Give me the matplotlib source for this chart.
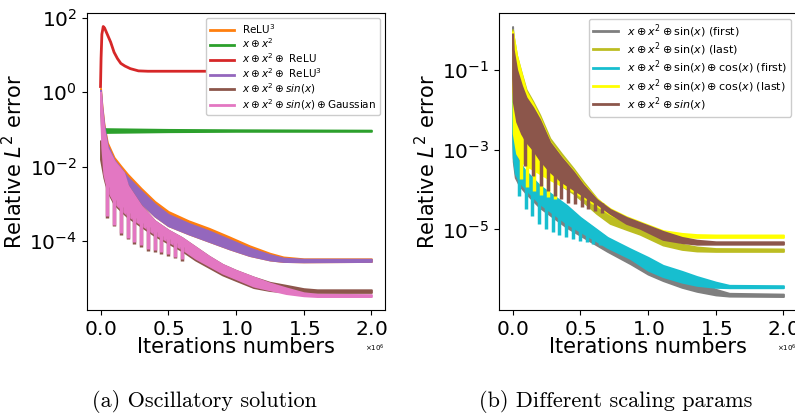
import numpy as np
import matplotlib
matplotlib.use('Agg')
import matplotlib.pyplot as plt

# x positions in units of 1e6 iterations, y values are log10(relative L2 error)

# ---------------- (a) Oscillatory solution ----------------
red_x = [0, 0.004, 0.01, 0.02, 0.03, 0.05, 0.075, 0.1, 0.125, 0.15, 0.18, 0.22, 0.28, 0.35, 0.6, 1.0, 1.5, 2.0]
red_y = [0.15, 0.9, 1.55, 1.76, 1.72, 1.55, 1.34, 1.07, 0.9, 0.77, 0.7, 0.63, 0.57, 0.56, 0.56, 0.56, 0.56, 0.56]

green_x = [0, 0.008, 0.02, 0.04, 0.5, 1.0, 2.0]
green_hi = [0.0, -0.8, -0.97, -0.98, -1.0, -1.01, -1.02]
green_lo = [-0.3, -1.05, -1.08, -1.08, -1.06, -1.05, -1.05]

a_x = [0, 0.01, 0.025, 0.05, 0.1, 0.15, 0.2, 0.3, 0.4, 0.5, 0.65, 0.8, 0.95, 1.1, 1.25, 1.35, 1.5, 2.0]
orange_hi = [0.1, -0.35, -0.85, -1.35, -1.75, -1.98, -2.2, -2.58, -2.93, -3.2, -3.45, -3.65, -3.88, -4.12, -4.32, -4.42, -4.47, -4.47]
orange_lo = [-0.3, -0.8, -1.3, -1.75, -2.15, -2.38, -2.6, -2.98, -3.32, -3.58, -3.8, -4.0, -4.2, -4.38, -4.5, -4.54, -4.55, -4.54]
purple_hi = [0.05, -0.4, -0.9, -1.42, -1.82, -2.05, -2.28, -2.65, -3.0, -3.28, -3.52, -3.72, -3.95, -4.18, -4.36, -4.45, -4.48, -4.48]
purple_lo = [-0.3, -0.8, -1.3, -1.75, -2.15, -2.38, -2.6, -2.98, -3.32, -3.58, -3.8, -4.0, -4.2, -4.38, -4.5, -4.54, -4.55, -4.54]

p_x = [0, 0.01, 0.025, 0.05, 0.1, 0.17, 0.2, 0.3, 0.4, 0.5, 0.6, 0.7, 0.8, 0.9, 1.0, 1.13, 1.25, 1.37, 1.5, 1.6, 2.0]
brown_a_hi = [-1.3, -1.5, -1.6, -1.7, -1.95, -2.25, -2.5, -3.05, -3.45, -3.7, -3.9, -4.15, -4.4, -4.62, -4.78, -4.96, -5.1, -5.18, -5.27, -5.3, -5.3]
brown_a_lo = [-1.8, -2.0, -2.3, -2.65, -3.0, -3.25, -3.35, -3.6, -3.85, -4.05, -4.25, -4.5, -4.7, -4.9, -5.05, -5.24, -5.32, -5.36, -5.37, -5.37, -5.37]
pink_hi = [0.0, -0.5, -1.0, -1.5, -1.85, -2.16, -2.5, -3.05, -3.45, -3.7, -3.9, -4.15, -4.4, -4.62, -4.78, -4.96, -5.12, -5.25, -5.38, -5.42, -5.43]
pink_lo = [-0.5, -1.5, -2.2, -2.6, -2.95, -3.2, -3.3, -3.55, -3.8, -4.0, -4.2, -4.45, -4.65, -4.85, -5.0, -5.2, -5.3, -5.4, -5.46, -5.48, -5.48]

pink_spike_x = [0.049, 0.098, 0.152, 0.2, 0.25, 0.3, 0.35, 0.4, 0.45, 0.5, 0.55, 0.6]
pink_spike_y = [-3.32, -3.55, -3.77, -3.9, -4.03, -4.11, -4.2, -4.24, -4.3, -4.35, -4.41, -4.48]

# ---------------- (b) Different scaling params ----------------
g_x = [0, 0.005, 0.02, 0.05, 0.1, 0.2, 0.3, 0.4, 0.5, 0.6, 0.7, 0.87, 1.0, 1.11, 1.25, 1.36, 1.5, 1.6, 2.0]
grey_hi = [0.08, -1.5, -2.9, -3.3, -3.6, -3.95, -4.2, -4.45, -4.72, -4.97, -5.22, -5.55, -5.8, -5.98, -6.15, -6.3, -6.5, -6.6, -6.62]
grey_lo = [-2.6, -3.3, -3.7, -3.9, -4.1, -4.45, -4.7, -4.95, -5.15, -5.35, -5.55, -5.86, -6.12, -6.28, -6.45, -6.55, -6.64, -6.67, -6.68]
cyan_hi = [-1.6, -2.5, -3.1, -3.35, -3.55, -3.9, -4.15, -4.4, -4.7, -4.95, -5.2, -5.49, -5.7, -5.9, -6.05, -6.18, -6.32, -6.4, -6.41]
cyan_lo = [-2.5, -3.2, -3.6, -3.8, -4.0, -4.35, -4.6, -4.85, -5.05, -5.25, -5.45, -5.73, -6.02, -6.18, -6.32, -6.4, -6.45, -6.46, -6.46]

cyan_spike_x = [0.047, 0.098, 0.147, 0.196, 0.246, 0.295, 0.344, 0.394, 0.443, 0.497, 0.546, 0.595, 0.645, 0.694]
cyan_spike_y = [-4.16, -4.49, -4.67, -4.86, -4.99, -5.07, -5.15, -5.19, -5.24, -5.28, -5.32, -5.36, -5.40, -5.44]

b_x = [0, 0.005, 0.03, 0.066, 0.1, 0.15, 0.2, 0.275, 0.36, 0.45, 0.52, 0.62, 0.72, 0.84, 0.94, 1.11, 1.25, 1.36, 1.5, 2.0]
olive_hi = [0.0, -0.15, -0.65, -1.1, -1.5, -1.8, -2.13, -2.72, -3.1, -3.48, -3.8, -4.22, -4.55, -4.85, -5.0, -5.26, -5.37, -5.44, -5.48, -5.49]
olive_lo = [-1.0, -1.8, -2.4, -2.7, -2.9, -3.1, -3.35, -3.65, -3.9, -4.1, -4.3, -4.6, -4.85, -5.0, -5.12, -5.39, -5.5, -5.54, -5.55, -5.55]
yellow_hi = [-0.05, -0.15, -0.65, -1.12, -1.55, -1.85, -2.2, -2.8, -3.18, -3.54, -3.86, -4.23, -4.48, -4.68, -4.81, -5.03, -5.1, -5.13, -5.14, -5.14]
yellow_lo = [-1.3, -2.6, -3.1, -3.3, -3.4, -3.5, -3.6, -3.75, -3.9, -4.05, -4.2, -4.4, -4.62, -4.82, -4.95, -5.1, -5.18, -5.2, -5.2, -5.2]
brown_b_hi = [-0.1, -0.5, -1.0, -1.4, -1.7, -1.95, -2.25, -2.82, -3.2, -3.56, -3.88, -4.25, -4.5, -4.7, -4.83, -5.05, -5.2, -5.27, -5.31, -5.31]
brown_b_lo = [-1.2, -1.8, -2.3, -2.6, -2.8, -3.0, -3.25, -3.55, -3.8, -4.0, -4.15, -4.35, -4.6, -4.85, -4.97, -5.25, -5.33, -5.37, -5.37, -5.37]

yellow_spike_x = [0.06, 0.11, 0.16, 0.21, 0.26, 0.31]
yellow_spike_y = [-3.75, -3.95, -4.05, -4.15, -4.2, -4.25]
brown_spike_x = [0.091, 0.15, 0.207, 0.263, 0.31, 0.36, 0.41, 0.46, 0.51, 0.56, 0.61, 0.66]
brown_spike_y = [-3.42, -3.66, -3.91, -4.04, -4.16, -4.24, -4.33, -4.37, -4.45, -4.49, -4.55, -4.6]

labels_a = ['ReLU$^3$', r'$x \oplus x^2$', r'$x \oplus x^2 \oplus$ ReLU', r'$x \oplus x^2 \oplus$ ReLU$^3$',
            r'$x \oplus x^2 \oplus sin(x)$', r'$x \oplus x^2 \oplus sin(x) \oplus$Gaussian']
labels_b = [r'$x \oplus x^2 \oplus$sin$(x)$ (first)', r'$x \oplus x^2 \oplus$sin$(x)$ (last)',
            r'$x \oplus x^2 \oplus$sin$(x) \oplus$cos$(x)$ (first)', r'$x \oplus x^2 \oplus$sin$(x) \oplus$cos$(x)$ (last)',
            r'$x \oplus x^2 \oplus sin(x)$']


def band(ax, x, lo, hi, color):
    x = np.array(x) * 1e6
    ax.fill_between(x, 10 ** np.array(lo), 10 ** np.array(hi), color=color, lw=1.4, edgecolor=color)


def spikes(ax, sx, sy, x, lo, color):
    top = np.interp(sx, x, lo) + 0.1
    ax.vlines(np.array(sx) * 1e6, 10 ** np.array(sy), 10 ** top, color=color, lw=2.5)


def style(ax, yt):
    ax.set_yscale('log')
    ax.set_yticks(yt)
    ax.minorticks_off()
    ax.ticklabel_format(axis='x', style='sci', scilimits=(0, 0), useMathText=True)
    ax.xaxis.get_offset_text().set_fontsize(5)
    ax.set_xticks([0, 0.5e6, 1.0e6, 1.5e6, 2.0e6])
    ax.tick_params(labelsize=14.5)
    ax.set_xlabel('Iterations numbers', fontsize=15, labelpad=-1)
    ax.set_ylabel('Relative $L^2$ error', fontsize=15, labelpad=2)


fig = plt.figure(figsize=(7.95, 4.15), dpi=100)
ax1 = fig.add_axes([0.1094, 0.253, 0.3748, 0.7157])
ax2 = fig.add_axes([0.6277, 0.253, 0.3748, 0.7157])

# (a)
c = {'orange': '#ff7f0e', 'green': '#2ca02c', 'red': '#d62728', 'purple': '#9467bd', 'brown': '#8c564b', 'pink': '#e377c2'}
band(ax1, a_x, orange_lo, orange_hi, c['orange'])
band(ax1, green_x, green_lo, green_hi, c['green'])
ax1.plot(np.array(red_x) * 1e6, 10 ** np.array(red_y), color=c['red'], lw=2)
band(ax1, a_x, purple_lo, purple_hi, c['purple'])
band(ax1, p_x, brown_a_lo, brown_a_hi, c['brown'])
spikes(ax1, pink_spike_x, np.array(pink_spike_y) - 0.05, p_x, brown_a_lo, c['brown'])
band(ax1, p_x, pink_lo, pink_hi, c['pink'])
spikes(ax1, pink_spike_x, pink_spike_y, p_x, pink_lo, c['pink'])
for col, lab in zip(['orange', 'green', 'red', 'purple', 'brown', 'pink'], labels_a):
    ax1.plot([], [], color=c[col], lw=2, label=lab)
ax1.legend(loc='upper right', fontsize=7.5, handlelength=2.3, labelspacing=0.1, borderpad=0.35, framealpha=1)
style(ax1, [1e2, 1e0, 1e-2, 1e-4])

# (b)
band(ax2, g_x, grey_lo, grey_hi, '#7f7f7f')
band(ax2, b_x, olive_lo, olive_hi, '#bcbd22')
band(ax2, g_x, cyan_lo, cyan_hi, '#17becf')
spikes(ax2, cyan_spike_x, cyan_spike_y, g_x, cyan_lo, '#17becf')
band(ax2, b_x, yellow_lo, yellow_hi, '#ffff00')
spikes(ax2, yellow_spike_x, yellow_spike_y, b_x, yellow_lo, '#ffff00')
band(ax2, b_x, brown_b_lo, brown_b_hi, '#8c564b')
spikes(ax2, brown_spike_x, brown_spike_y, b_x, brown_b_lo, '#8c564b')
for col, lab in zip(['#7f7f7f', '#bcbd22', '#17becf', '#ffff00', '#8c564b'], labels_b):
    ax2.plot([], [], color=col, lw=2, label=lab)
ax2.legend(loc='upper right', fontsize=8, handlelength=2.3, labelspacing=0.05, borderpad=0.35, framealpha=1)
style(ax2, [1e-1, 1e-3, 1e-5])

fig.text(0.257, 0.02, '(a) Oscillatory solution', fontsize=16, family='cmr10', ha='center')
fig.text(0.775, 0.02, '(b) Different scaling params', fontsize=16, family='cmr10', ha='center')

fig.savefig('out.png', dpi=100)
